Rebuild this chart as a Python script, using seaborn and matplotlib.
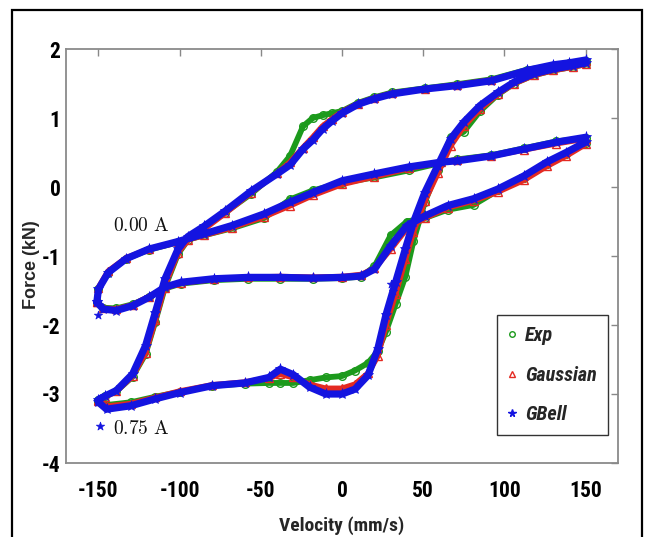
import numpy as np
import pandas as pd
import seaborn as sns
import matplotlib
matplotlib.use("Agg")
import matplotlib.pyplot as plt
from matplotlib.lines import Line2D
from matplotlib.patches import Rectangle
from matplotlib import font_manager as fm

# ---------------- data ----------------
# Loop at 0.75 A : closed path, lower branch (velocity increasing) then upper branch
vel_075 = [-150, -145, -130, -115, -100, -80, -60, -45, -38, -30, -20, -10, 0, 8, 16, 22, 27, 33, 39, 44,
           51, 59, 67, 75, 85, 96, 106, 118, 130, 142, 150,
           150, 140, 130, 114, 92, 71, 51, 31, 20, 10, 0, -6, -12, -18, -24, -32, -40, -56, -72, -85,
           -95, -101, -109, -115, -121, -129, -139, -146, -150]
gbell_075 = [-3.12, -3.22, -3.17, -3.07, -2.98, -2.88, -2.84, -2.76, -2.64, -2.72, -2.90, -3.00, -3.00, -2.93,
             -2.73, -2.35, -1.86, -1.38, -0.90, -0.51, -0.08, 0.31, 0.70, 0.94, 1.18, 1.37, 1.52, 1.64, 1.71,
             1.76, 1.80,
             1.84, 1.80, 1.77, 1.69, 1.54, 1.47, 1.42, 1.35, 1.28, 1.20, 1.07, 0.96, 0.84, 0.68, 0.55, 0.32,
             0.19, -0.06, -0.35, -0.57, -0.72, -0.90, -1.33, -1.82, -2.30, -2.71, -2.95, -3.03, -3.08]
gauss_075 = [-3.10, -3.18, -3.14, -3.05, -2.96, -2.87, -2.83, -2.77, -2.71, -2.76, -2.86, -2.92, -2.92, -2.86,
             -2.70, -2.45, -2.00, -1.55, -1.05, -0.65, -0.20, 0.20, 0.60, 0.88, 1.13, 1.35, 1.50, 1.62, 1.69,
             1.74, 1.78,
             1.83, 1.79, 1.75, 1.68, 1.55, 1.48, 1.42, 1.36, 1.29, 1.21, 1.09, 0.99, 0.88, 0.72, 0.57, 0.36,
             0.20, -0.08, -0.38, -0.61, -0.77, -0.95, -1.42, -1.93, -2.40, -2.74, -2.96, -3.04, -3.09]
exp_075 = [-3.10, -3.16, -3.12, -3.04, -2.97, -2.88, -2.85, -2.84, -2.84, -2.84, -2.80, -2.76, -2.74, -2.66,
           -2.55, -2.38, -2.10, -1.70, -1.30, -0.78, -0.22, 0.25, 0.72, 0.80, 1.10, 1.34, 1.50, 1.62, 1.69,
           1.74, 1.78,
           1.82, 1.79, 1.76, 1.70, 1.56, 1.49, 1.43, 1.37, 1.30, 1.22, 1.10, 1.07, 1.04, 1.00, 0.88, 0.45,
           0.22, -0.10, -0.37, -0.59, -0.77, -0.97, -1.45, -1.95, -2.42, -2.75, -2.96, -3.03, -3.08]

# Loop at 0.00 A
vel_000 = [-151, -147, -139, -129, -119, -109, -99, -79, -58, -38, -18, 0, 12, 20, 30, 40, 51, 65, 81, 96,
           112, 126, 138, 150,
           150, 132, 112, 92, 71, 61, 41, 20, 0, -18, -32, -48, -68, -85, -101, -119, -133, -144, -150, -151]
gbell_000 = [-1.67, -1.77, -1.79, -1.72, -1.60, -1.45, -1.38, -1.33, -1.31, -1.31, -1.32, -1.31, -1.29, -1.19,
             -0.85, -0.56, -0.42, -0.27, -0.17, -0.03, 0.16, 0.36, 0.50, 0.65,
             0.72, 0.65, 0.55, 0.45, 0.38, 0.36, 0.29, 0.19, 0.09, -0.08, -0.22, -0.39, -0.56, -0.68, -0.79,
             -0.90, -1.04, -1.24, -1.48, -1.67]
gauss_000 = [-1.67, -1.76, -1.77, -1.71, -1.59, -1.46, -1.39, -1.34, -1.31, -1.30, -1.31, -1.30, -1.27, -1.18,
             -0.90, -0.60, -0.45, -0.30, -0.20, -0.07, 0.10, 0.30, 0.45, 0.62,
             0.70, 0.63, 0.54, 0.45, 0.39, 0.36, 0.27, 0.15, 0.04, -0.12, -0.27, -0.43, -0.59, -0.70, -0.80,
             -0.90, -1.03, -1.22, -1.46, -1.67]
exp_000 = [-1.67, -1.75, -1.76, -1.70, -1.60, -1.47, -1.40, -1.35, -1.33, -1.33, -1.33, -1.32, -1.30, -1.15,
           -0.70, -0.50, -0.45, -0.33, -0.26, -0.05, 0.13, 0.33, 0.48, 0.64,
           0.71, 0.66, 0.56, 0.46, 0.40, 0.35, 0.24, 0.14, 0.06, -0.05, -0.18, -0.45, -0.60, -0.70, -0.80,
           -0.91, -1.04, -1.24, -1.48, -1.67]

# isolated GBell points outside the bands
gbell_extra_v = [-150.5, -149.0, 30.0, 31.5]
gbell_extra_f = [-1.86, -3.46, -1.40, -1.50]

models = ["Exp", "Gaussian", "GBell"]
loop_labels = ["0.00 A", "0.75 A"]
label_pos_v = [-124, -124]
label_pos_f = [-0.56, -3.51]

# ---------------- build table ----------------
rows = []
series = {"Exp": (exp_000, exp_075), "Gaussian": (gauss_000, gauss_075), "GBell": (gbell_000, gbell_075)}
for m in models:
    f0, f1 = series[m]
    for i, (v, f) in enumerate(zip(vel_000, f0)):
        rows.append((m, "0.00 A", i, v, f))
    for i, (v, f) in enumerate(zip(vel_075, f1)):
        rows.append((m, "0.75 A", i, v, f))
df = pd.DataFrame(rows, columns=["model", "loop", "idx", "Velocity", "Force"])

# ---------------- fonts: look for a condensed bold sans ----------------
def find_font(italic=False):
    prefs = ["liberation sans narrow", "arial narrow", "roboto condensed", "noto sans", "open sans",
             "dejavu sans"]
    best = None
    for f in fm.fontManager.ttflist:
        name = (f.name or "").lower()
        fname = f.fname.lower()
        cond = ("narrow" in fname or "condensed" in fname or "narrow" in name or "condensed" in name
                or f.stretch in ("condensed", "semi-condensed"))
        if not cond or "extra" in fname or "semicondensed" in fname or "semi" in fname:
            continue
        w = f.weight if isinstance(f.weight, int) else 400
        if w < 600:
            continue
        if "black" in fname or "extrabold" in fname:
            continue
        is_it = f.style in ("italic", "oblique") or "italic" in fname
        if is_it != italic:
            continue
        rank = len(prefs)
        for k, p in enumerate(prefs):
            if p in name or p.replace(" ", "") in fname:
                rank = k
                break
        if best is None or rank < best[0]:
            best = (rank, f.fname)
    return best[1] if best else None

fn_bold = find_font(False)
fn_boldit = find_font(True)
tick_fp = fm.FontProperties(fname=fn_bold, size=15.5) if fn_bold else \
    fm.FontProperties(family="Liberation Sans", weight="bold", size=13.5)
xlab_fp = fm.FontProperties(fname=fn_bold, size=14) if fn_bold else \
    fm.FontProperties(family="Liberation Sans", weight="bold", size=12)
leg_fp = fm.FontProperties(fname=fn_boldit, size=14.5) if fn_boldit else \
    fm.FontProperties(family="Liberation Sans", weight="bold", style="italic", size=11.5)

# ---------------- styling ----------------
sns.set_theme(style="white")
plt.rcParams["axes.unicode_minus"] = False
plt.rcParams["font.family"] = ["Liberation Sans", "DejaVu Sans"]
plt.rcParams["mathtext.fontset"] = "cm"

colors = {"Exp": "#1c9a1c", "Gaussian": "#e42a22", "GBell": "#1414e0"}
marker = {"Exp": "o", "Gaussian": "^", "GBell": "*"}

fig = plt.figure(figsize=(6.48, 5.37), dpi=100)
ax = fig.add_axes([66 / 648, 1 - 463 / 537, 552 / 648, 414 / 537])

style = {
    "Exp": dict(lw=4.2, ms=5.5, mfc="none", mew=1.0),
    "Gaussian": dict(lw=4.2, ms=5.5, mfc="none", mew=1.0),
    "GBell": dict(lw=5.2, ms=8, mew=0.5),
}
for z, m in enumerate(models):
    sub = df[df.model == m]
    sns.lineplot(data=sub, x="Velocity", y="Force", units="loop", estimator=None, sort=False,
                 color=colors[m], marker=marker[m], mec=colors[m], ax=ax, zorder=2 + z,
                 legend=False, **style[m])

sns.scatterplot(x=gbell_extra_v, y=gbell_extra_f, marker="*", s=40, color=colors["GBell"],
                edgecolor=colors["GBell"], ax=ax, zorder=6, legend=False)

for t, xv, yv in zip(loop_labels, label_pos_v, label_pos_f):
    ax.text(xv, yv, r"$\mathrm{" + t.replace(" ", r"\ ") + "}$", fontsize=14, ha="center", va="center",
            color="#111111", zorder=7)

ax.set_xlim(-170, 170)
ax.set_ylim(-4, 2)
ax.set_xticks([-150, -100, -50, 0, 50, 100, 150])
ax.set_yticks([-4, -3, -2, -1, 0, 1, 2])
ax.tick_params(direction="in", top=True, right=True, length=5, width=1, color="#888888",
               labelcolor="black")
ax.tick_params(axis="x", pad=12)
ax.tick_params(axis="y", pad=4)
for lab in ax.get_xticklabels() + ax.get_yticklabels():
    lab.set_fontproperties(tick_fp)
for s in ax.spines.values():
    s.set_color("#8a8a8a")
    s.set_linewidth(1.3)

ax.set_xlabel("Velocity (mm/s)", fontproperties=xlab_fp)
ax.xaxis.set_label_coords(0.5, -0.128)
ax.set_ylabel("Force (kN)", fontsize=13, fontweight="bold",
              family=["Liberation Sans", "DejaVu Sans"])
ax.yaxis.set_label_coords(-0.048, 0.48)

handles = [Line2D([], [], ls="none", marker=marker[m], color=colors[m], mec=colors[m],
                  mfc=("none" if m != "GBell" else colors[m]), ms=(4 if m != "GBell" else 5.5), mew=1)
           for m in models]
leg = ax.legend(handles, models, loc="lower right", bbox_to_anchor=(0.982, 0.068), frameon=True,
                fancybox=False, edgecolor="#333333", framealpha=1, handlelength=0.4, handletextpad=0.45,
                labelspacing=1.0, borderpad=0.55, borderaxespad=0, prop=leg_fp)
leg.get_frame().set_linewidth(1.0)

# outer frame of the figure
fig.patches.append(Rectangle((12 / 648, -0.05), 630 / 648, 1.05 - 10 / 537, transform=fig.transFigure,
                             fill=False, edgecolor="black", linewidth=1.6))

fig.savefig("out.png", dpi=100)
